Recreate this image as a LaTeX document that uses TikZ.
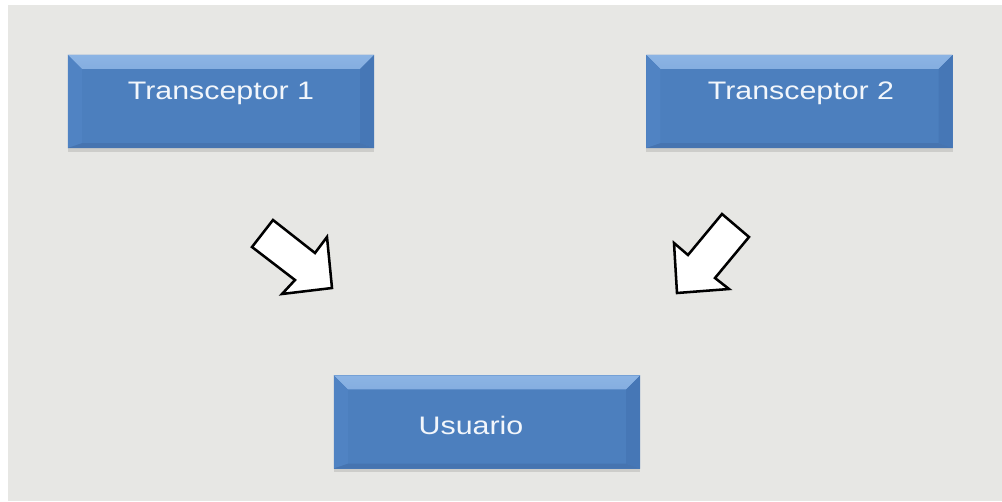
\documentclass[tikz,border=0pt]{standalone}
\usepackage{fontspec}
\setmainfont{Liberation Sans}
\newfontfamily\boxfont[FakeStretch=1.2]{Liberation Sans}
\usepackage{tikz}
\usetikzlibrary{calc, shadows}
\definecolor{canvas}{RGB}{231,231,228}
\definecolor{boxbody}{RGB}{76,127,190}
\definecolor{bevelhi}{RGB}{140,180,228}
\definecolor{bevelmid}{RGB}{88,138,202}
\definecolor{bevelleft}{RGB}{80,131,195}
\definecolor{bevelright}{RGB}{70,119,182}
\definecolor{bevellow}{RGB}{70,116,176}
\definecolor{boxtext}{RGB}{242,246,251}

\begin{document}
\begin{tikzpicture}[x=0.025cm, y=-0.025cm]
  \tikzset{
    blockbox/.style={rectangle, fill=boxbody, inner sep=0pt,
      minimum width=7.65cm, minimum height=2.325cm,
      drop shadow={shadow xshift=0pt, shadow yshift=-2.5pt, opacity=0.25},
      path picture={
        \fill[top color=bevelhi, bottom color=bevelmid]
          (path picture bounding box.north west) -- (path picture bounding box.north east)
          -- ++(-0.35cm,-0.35cm) -- ($(path picture bounding box.north west)+(0.35cm,-0.35cm)$) -- cycle;
        \fill[bevelleft]
          (path picture bounding box.north west) -- ++(0.35cm,-0.35cm)
          -- ($(path picture bounding box.south west)+(0.35cm,0.12cm)$) -- (path picture bounding box.south west) -- cycle;
        \fill[bevelright]
          (path picture bounding box.north east) -- ++(-0.35cm,-0.35cm)
          -- ($(path picture bounding box.south east)+(-0.35cm,0.12cm)$) -- (path picture bounding box.south east) -- cycle;
        \fill[bevellow]
          (path picture bounding box.south west) -- ++(0.35cm,0.12cm)
          -- ($(path picture bounding box.south east)+(-0.35cm,0.12cm)$) -- (path picture bounding box.south east) -- cycle;
      }},
    boxlabel/.style={anchor=base, text=boxtext, inner sep=0pt, font=\boxfont\fontsize{18}{20}\selectfont},
    blockarrow/.style={draw=black, fill=white, line width=1.8pt, line join=miter}
  }
  \useasboundingbox (0,0) rectangle (1002,501);
  \fill[white] (0,0) rectangle (1002,501);
  \fill[canvas] (8,5) rectangle (1002,501);

  % boxes
  \node[blockbox] (t1) at (221,101.5) {};
  \node[blockbox] (t2) at (799.5,101.5) {};
  \node[blockbox] (us) at (487,422) {};

  \node[boxlabel] (t1text) at (221,99) {Transceptor 1};
  \node[boxlabel] (t2text) at (801,99) {Transceptor 2};
  \node[boxlabel] (ustext) at (471,434) {Usuario};

  % block arrows
  \draw[blockarrow] (252,247) -- (273,220) -- (315,253) -- (327,237) -- (332,288) -- (282,294) -- (295,280) -- cycle;
  \draw[blockarrow] (722,214) -- (749,237) -- (715,278) -- (729,289) -- (677,293) -- (674,243) -- (688,255) -- cycle;
\end{tikzpicture}
\end{document}
